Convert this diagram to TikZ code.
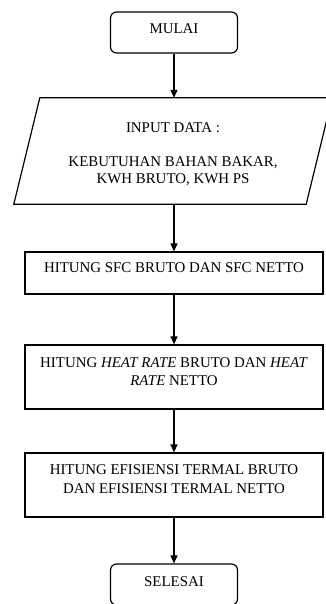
\documentclass[tikz,border=0pt]{standalone}
\usepackage{fontspec}
\setmainfont{Liberation Serif}
\usetikzlibrary{arrows.meta,calc}
\begin{document}
\begin{tikzpicture}[x=1pt,y=-1pt,
  box/.style={draw, line width=1.2pt, minimum width=298pt, inner sep=0pt},
  term/.style={draw, line width=1.2pt, rounded corners=6pt, minimum width=127pt, minimum height=41pt, inner sep=0pt},
  hid/.style={minimum width=292pt, minimum height=106pt, inner sep=0pt},
  lbl/.style={anchor=north, align=center, inner sep=0pt, font=\fontsize{14.9}{18.5}\selectfont},
  arr/.style={-{Triangle[length=8pt,width=7pt]}, line width=1.2pt}]
\useasboundingbox (0,0) rectangle (326,604);
\clip (0,0) rectangle (326,604);
% shapes
\node[term] (start) at (174,32.5) {};
\node[hid] (inp) at (173,151) {};
\draw[line width=1.2pt] ($(inp.north west)+(13,0)$) coordinate (p1) -- ($(inp.north east)+(13,0)$) coordinate (p2)
  -- ($(inp.south east)+(-13,0)$) coordinate (p3) -- ($(inp.south west)+(-13,0)$) coordinate (p4) -- cycle;
\node[box, minimum height=42pt] (sfc) at (174,273) {};
\node[box, minimum height=64pt] (heat) at (174,377) {};
\node[box, minimum height=64pt] (eff) at (174,485) {};
\node[term] (stop) at (174,584.5) {};
% texts
\node[lbl, yshift=-12.1pt] (tstart) at (start.north) {MULAI};
\node[lbl, yshift=-25.1pt, font=\fontsize{14.9}{17}\selectfont] (tinp) at (inp.north) {INPUT DATA :\\[17pt]KEBUTUHAN BAHAN BAKAR,\\KWH BRUTO, KWH PS};
\node[lbl, yshift=-11.3pt] (tsfc) at (sfc.north) {HITUNG SFC BRUTO DAN SFC NETTO};
\node[lbl, yshift=-12.7pt] (theat) at (heat.north) {HITUNG \textit{HEAT RATE} BRUTO DAN \textit{HEAT}\\\textit{RATE} NETTO};
\node[lbl, yshift=-12.1pt] (teff) at (eff.north) {HITUNG EFISIENSI TERMAL BRUTO\\DAN EFISIENSI TERMAL NETTO};
\node[lbl, yshift=-13.1pt] (tstop) at (stop.north) {SELESAI};
% connectors
\draw[arr] (start.south) -- (start.south |- inp.north);
\draw[arr] (start.south |- inp.south) -- (sfc.north);
\draw[arr] (sfc.south) -- (heat.north);
\draw[arr] (heat.south) -- (eff.north);
\draw[arr] (eff.south) -- (stop.north);
\end{tikzpicture}
\end{document}
